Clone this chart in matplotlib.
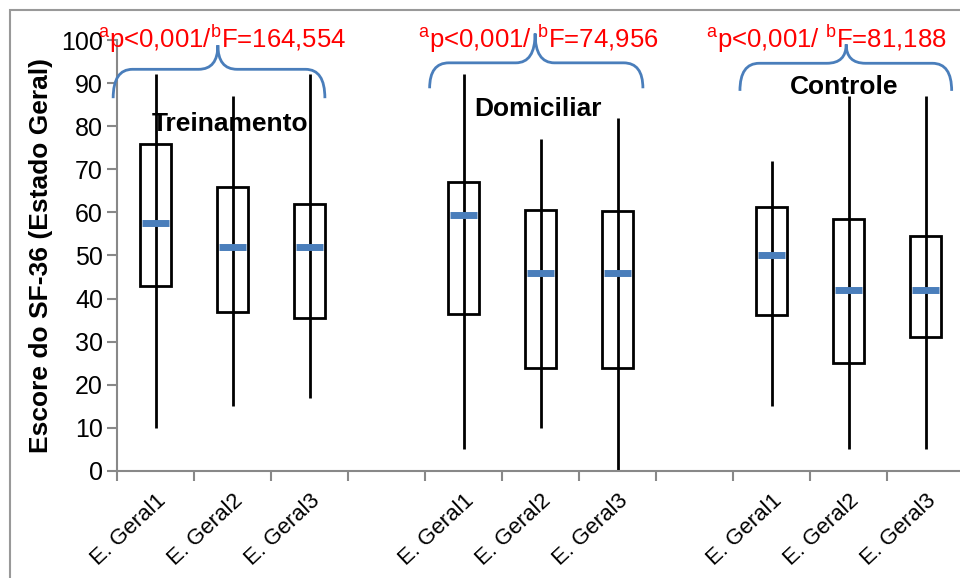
import matplotlib
matplotlib.use("Agg")
import matplotlib.pyplot as plt
from matplotlib.path import Path
from matplotlib.patches import PathPatch, Rectangle

plt.rcParams.update({
    "font.family": ["Liberation Sans", "DejaVu Sans"],
    "mathtext.fontset": "custom",
    "mathtext.rm": "Liberation Sans",
    "font.size": 16,
})

# data (Excel stock-style box plot)
labels = ["E. Geral1", "E. Geral2", "E. Geral3"]
groups = ["Treinamento", "Domiciliar", "Controle"]
stats_text = [r"$^{\mathrm{a}}$p<0,001/$^{\mathrm{b}}$F=164,554",
              r"$^{\mathrm{a}}$p<0,001/ $^{\mathrm{b}}$F=74,956",
              r"$^{\mathrm{a}}$p<0,001/ $^{\mathrm{b}}$F=81,188"]

whisk_hi = [92, 87, 92,   92, 77, 82,   72, 87, 87]
whisk_lo = [10, 15, 17,   5, 10, 0,     15, 5, 5]
q3 = [75.8, 65.8, 62.0,   67.1, 60.5, 60.3,   61.2, 58.5, 54.6]
q1 = [43.0, 37.0, 35.4,   36.5, 24.0, 24.0,   36.1, 25.1, 31.0]
median = [57.5, 51.9, 51.9,   59.4, 46.0, 46.0,   50.1, 42.1, 42.1]

# category slots: three per group with an empty slot between groups
pos = [0, 1, 2, 4, 5, 6, 8, 9, 10]

fig = plt.figure(figsize=(9.6, 5.78), dpi=100)
ax = fig.add_axes([117 / 960, 107 / 578, 847 / 960, 431 / 578])

ax.vlines(pos, whisk_lo, whisk_hi, color="black", lw=2, zorder=2)
ax.bar(pos, [h - l for h, l in zip(q3, q1)], bottom=q1, width=0.4,
       facecolor="none", edgecolor="black", lw=2, zorder=3)
ax.hlines(median, [p - 0.18 for p in pos], [p + 0.18 for p in pos],
          color="#4a7ebb", lw=5, zorder=4)

ax.set_xlim(-0.5, 10.5)
ax.set_ylim(0, 100)
ax.set_yticks(range(0, 101, 10))
ax.set_xticks([i - 0.5 for i in range(12)])
ax.set_xticklabels([])
ax.set_xticks(pos, minor=True)
ax.set_xticklabels(labels * 3, minor=True, rotation=43, ha="right",
                   va="top", rotation_mode="anchor", fontsize=16)
ax.tick_params(axis="x", which="minor", length=0, pad=14)
ax.tick_params(axis="both", which="major", color="#888888", length=7,
               width=1.5)
ax.tick_params(axis="y", labelsize=18, pad=3)

for s in ["top", "right"]:
    ax.spines[s].set_visible(False)
for s in ["left", "bottom"]:
    ax.spines[s].set_color("#888888")
    ax.spines[s].set_linewidth(1.5)

ax.set_ylabel("Escore do SF-36 (Estado Geral)", fontsize=19,
              fontweight="bold", labelpad=6)

# group names
for g, x, y in zip(groups, [0.97, 4.97, 8.94], [80.5, 84, 89.2]):
    ax.text(x, y, g, ha="center", va="center", fontsize=19,
            fontweight="bold", zorder=5)


# curly brace: left arm, tip, right arm
def brace_path(x0, x1, xm, ybar, yend, ytip):
    r = 0.25
    verts = [(x0, yend), (x0, ybar), (x0 + r, ybar),
             (xm - r, ybar), (xm, ybar), (xm, ytip),
             (xm, ybar), (xm + r, ybar),
             (x1 - r, ybar), (x1, ybar), (x1, yend)]
    codes = [Path.MOVETO, Path.CURVE3, Path.CURVE3,
             Path.LINETO, Path.CURVE3, Path.CURVE3,
             Path.CURVE3, Path.CURVE3,
             Path.LINETO, Path.CURVE3, Path.CURVE3]
    return Path(verts, codes)


braces = [(-0.55, 2.20, 0.81, 93.2, 86.5, 98.8),
          (3.56, 6.33, 4.93, 94.7, 88.8, 101.5),
          (7.59, 10.34, 8.97, 94.6, 88.2, 99.0)]
for b in braces:
    ax.add_patch(PathPatch(brace_path(*b), facecolor="none",
                           edgecolor="#4a7ebb", lw=2, clip_on=False,
                           zorder=6))

for t, x in zip(stats_text, [0.86, 4.97, 8.71]):
    ax.text(x, 98.2, t, ha="center", va="baseline", color="red",
            fontsize=18.5, zorder=7, clip_on=False)

fig.add_artist(Rectangle((10 / 960, -0.2), 1.5, 1.2 - 10 / 578,
                         transform=fig.transFigure, facecolor="none",
                         edgecolor="#999999", lw=1.5))

fig.savefig("out.png", dpi=100)
